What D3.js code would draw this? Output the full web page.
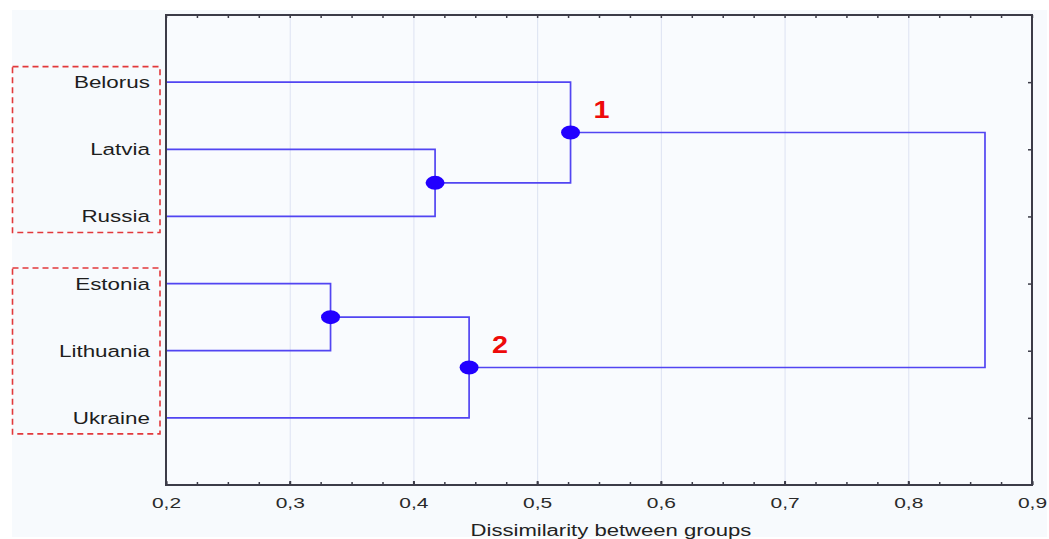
<!DOCTYPE html>
<html><head><meta charset="utf-8">
<script src="https://cdn.jsdelivr.net/npm/d3@7"></script>
<style>
html,body{margin:0;padding:0;background:#fff;}
svg{display:block;font-family:"Liberation Sans",Arial,sans-serif;}
</style></head>
<body>
<svg id="chart" width="1049" height="539"></svg>
<script>
// ---- data ----
const leaves = ["Belorus","Latvia","Russia","Estonia","Lithuania","Ukraine"];
const nodeIds    = ["C1","C2","C3","C4","C5"];
const nodeLeft   = ["Latvia","Estonia","Belorus","C2","C3"];
const nodeRight  = ["Russia","Lithuania","C1","Ukraine","C4"];
const nodeHeight = [0.4175, 0.333, 0.527, 0.445, 0.862];
const clusterNodes  = ["C3","C4"];
const clusterLabels = ["1","2"];
const groupBoxes = [["Belorus","Russia"],["Estonia","Ukraine"]];
const xTicks = [0.2,0.3,0.4,0.5,0.6,0.7,0.8,0.9];
const xTitle = "Dissimilarity between groups";

// ---- layout ----
const svg = d3.select("#chart");
const L = 166, R = 1032, T = 15, B = 485;
const x = d3.scaleLinear().domain([0.2,0.9]).range([L,R]);
const yLeaf = d3.scalePoint().domain(leaves).range([T,B]).padding(1);

// background panels
svg.append("rect").attr("x",12).attr("y",10).attr("width",1035).attr("height",527).attr("fill","#f7fafd");
svg.append("rect").attr("x",L).attr("y",T).attr("width",R-L).attr("height",B-T).attr("fill","#f9fbfe");

// grid
svg.append("g").attr("transform",`translate(0,${B})`)
  .call(d3.axisBottom(x).tickValues(xTicks.slice(1,-1)).tickSize(-(B-T)).tickFormat(""))
  .call(g=>g.select(".domain").remove())
  .call(g=>g.selectAll("line").attr("stroke","#dde2f2").attr("stroke-width",1));

// compute node positions
const pos = {};
leaves.forEach(l=>{ pos[l] = {x:x(0.2), y:yLeaf(l)}; });
nodeIds.forEach((id,i)=>{
  const a = pos[nodeLeft[i]], b = pos[nodeRight[i]];
  pos[id] = {x:x(nodeHeight[i]), y:(a.y+b.y)/2, a, b};
});

// links
const lineColor = "#5245f2";
const gl = svg.append("g").attr("fill","none").attr("stroke",lineColor).attr("stroke-width",1.7);
nodeIds.forEach(id=>{
  const n = pos[id];
  [n.a,n.b].forEach(c=>{
    gl.append("path").attr("d",`M${c.x},${c.y}H${n.x}V${n.y}`);
  });
});

// dots (all internal nodes except root)
nodeIds.slice(0,-1).forEach(id=>{
  svg.append("ellipse").attr("cx",pos[id].x).attr("cy",pos[id].y)
    .attr("rx",9.5).attr("ry",7).attr("fill","#2200ff");
});

// frame axes
const axisColor = "#3c3c48";
const fmt = d=>d3.format(".1f")(d).replace(".",",");
const minor = d3.range(0,29).map(i=>0.2+i*0.025);
svg.append("g").attr("transform",`translate(0,${B})`)
  .call(d3.axisBottom(x).tickValues(minor).tickSize(-3).tickFormat(""))
  .call(g=>g.select(".domain").remove())
  .call(g=>g.selectAll("line").attr("stroke",axisColor).attr("stroke-width",1.5));
svg.append("g").attr("transform",`translate(0,${T})`)
  .call(d3.axisTop(x).tickValues(minor).tickSize(-3).tickFormat(""))
  .call(g=>g.select(".domain").remove())
  .call(g=>g.selectAll("line").attr("stroke",axisColor).attr("stroke-width",1.5));
const xb = svg.append("g").attr("transform",`translate(0,${B})`)
  .call(d3.axisBottom(x).tickValues(xTicks).tickSize(-4).tickPadding(12).tickFormat(fmt))
  .call(g=>g.select(".domain").remove());
xb.selectAll("line").attr("stroke",axisColor).attr("stroke-width",2);
xb.selectAll("text").attr("font-size",15).attr("fill","#2a2a2a")
  .attr("font-family","Liberation Sans, Arial, sans-serif").attr("transform","scale(1.4,1)");

svg.append("g").attr("transform",`translate(${R},0)`)
  .call(d3.axisRight(yLeaf).tickSize(-4).tickFormat(""))
  .call(g=>g.select(".domain").remove())
  .call(g=>g.selectAll("line").attr("stroke",axisColor).attr("stroke-width",1.5));

svg.append("rect").attr("x",L).attr("y",T).attr("width",R-L).attr("height",B-T)
  .attr("fill","none").attr("stroke",axisColor).attr("stroke-width",2);

// leaf labels
leaves.forEach(l=>{
  svg.append("text").attr("transform",`translate(150,${yLeaf(l)+6}) scale(1.36,1)`)
    .attr("text-anchor","end").attr("font-size",16.5).attr("fill","#1e1e1e").text(l);
});

// group boxes
groupBoxes.forEach(([a,b])=>{
  const y0 = yLeaf(a)-15.5, y1 = yLeaf(b)+16;
  svg.append("rect").attr("x",12.5).attr("y",y0).attr("width",147.5).attr("height",y1-y0)
    .attr("fill","none").attr("stroke","#e2383b").attr("stroke-width",1.6).attr("stroke-dasharray","6,4");
});

// cluster labels
clusterNodes.forEach((id,i)=>{
  const p = pos[id];
  svg.append("text").attr("transform",`translate(${p.x+31},${p.y-15}) scale(1.2,1)`)
    .attr("text-anchor","middle").attr("font-size",24).attr("font-weight","bold")
    .attr("fill","#ee0a0a").text(clusterLabels[i]);
});

// axis title
svg.append("text").attr("transform",`translate(${(L+R)/2+12},536) scale(1.38,1)`)
  .attr("text-anchor","middle").attr("font-size",16).attr("fill","#222").text(xTitle);
</script>
</body></html>
